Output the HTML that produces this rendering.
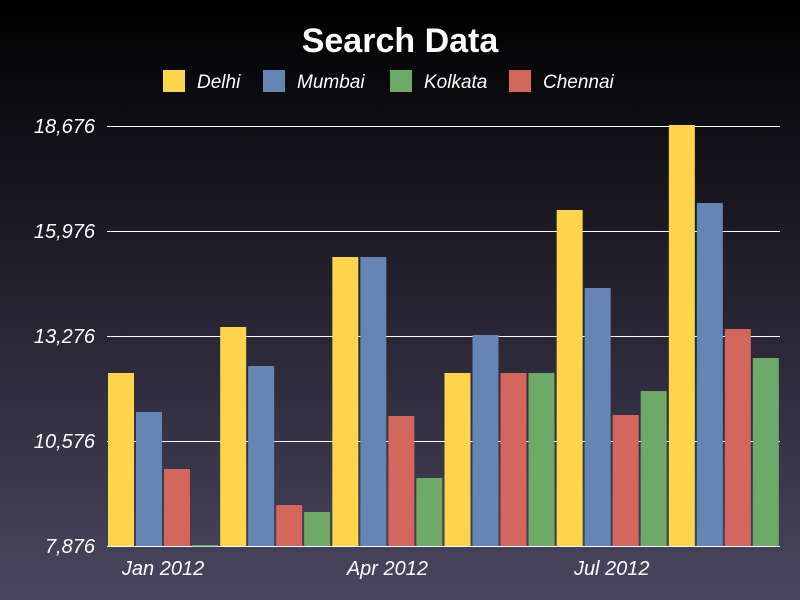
<!DOCTYPE html>
<html><head><meta charset="utf-8"><style>
html,body{margin:0;width:800px;height:600px;overflow:hidden}
body{background:linear-gradient(#000 0%,#4a4660 100%);font-family:"Liberation Sans",sans-serif}
svg{display:block}
</style></head><body>
<svg id="c" width="800" height="600">
<text x="400" y="52" text-anchor="middle" fill="#fff" font-size="34" font-weight="bold">Search Data</text>
</svg>
<script>
const groups=["Jan 2012","Feb 2012","Apr 2012","May 2012","Jul 2012","Aug 2012"];
const xLabels=["Jan 2012","","Apr 2012","","Jul 2012",""];
const delhi=[12325,13507,15307,12325,16516,18702];
const mumbai=[11322,12505,15307,13302,14510,16696];
const chennai=[9856,8930,11219,12325,11245,13456];
const kolkata=[7890,8750,9625,12325,11862,12710];
const yTicks=[7876,10576,13276,15976,18676];
const ns="http://www.w3.org/2000/svg",svg=document.getElementById('c');
const x0=107,x1=780,yMin=7876,yMax=18676,py0=546,py1=126;
const y=v=>py0-(v-yMin)/(yMax-yMin)*(py0-py1);
const gw=(x1-x0)/groups.length;
function mk(t,a){const e=document.createElementNS(ns,t);for(const k in a)e.setAttribute(k,a[k]);svg.appendChild(e);return e;}
yTicks.forEach((t,i)=>{
 const yy=Math.round(y(t))+0.5;
 const l=mk('line',{x1:x0,x2:x1,y1:yy,y2:yy,stroke:'#fff','stroke-width':1});
 
 
 const tx=mk('text',{x:95,y:y(t)+7,'text-anchor':'end',fill:'#fff','font-size':20,'font-style':'italic'});
 tx.textContent=t.toLocaleString('en-US');
 
 
});
const series=[[delhi,'#fdd54b','delhi'],[mumbai,'#6585b5','mumbai'],[chennai,'#d3675e','chennai'],[kolkata,'#6daa67','kolkata']];
groups.forEach((g,i)=>{
 series.forEach((s,j)=>{
  const bx=x0+1+i*gw+j*28;const top=y(s[0][i]);
  const r=mk('rect',{x:bx,y:Math.min(top,py0-1),width:26,height:Math.max(py0-top,1.5),fill:s[1]});
  
  
 });
 if(xLabels[i]){const t=mk('text',{x:x0+i*gw+gw/2,y:575,'text-anchor':'middle',fill:'#fff','font-size':20,'font-style':'italic'});
 t.textContent=xLabels[i];
 
 }
});
const leg=[['Delhi','#fdd54b',163],['Mumbai','#6585b5',263],['Kolkata','#6daa67',390],['Chennai','#d3675e',509]];
leg.forEach(l=>{
 const r=mk('rect',{x:l[2],y:70,width:22,height:22,fill:l[1]});
 
 
 const t=mk('text',{x:l[2]+34,y:88,fill:'#fff','font-size':19,'font-style':'italic'});
 t.textContent=l[0];
 
 
});
</script>
</body></html>
